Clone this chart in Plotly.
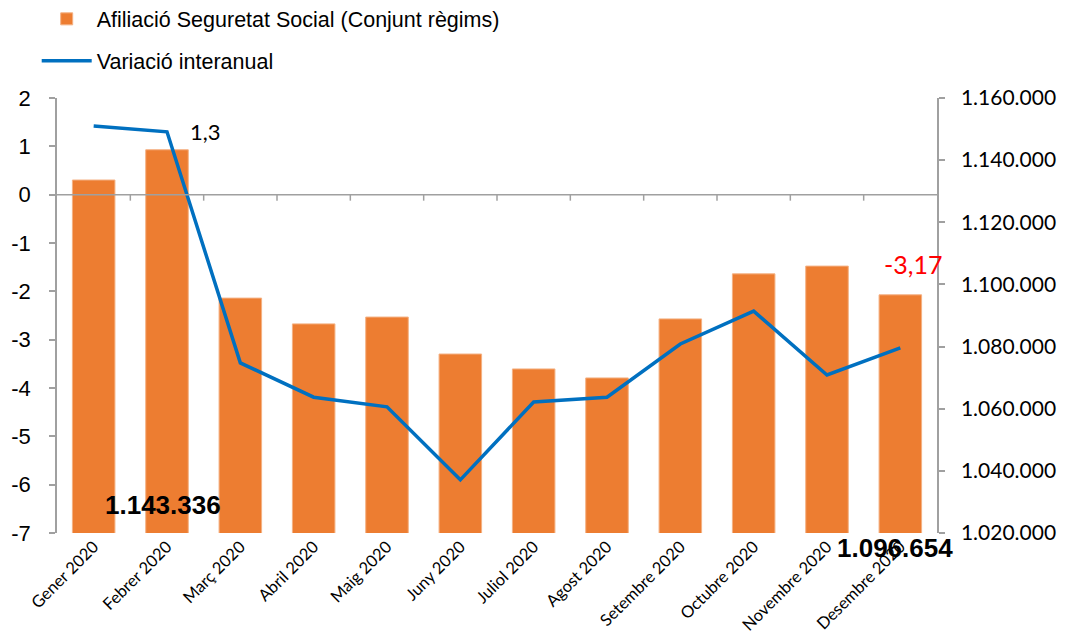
import plotly.graph_objects as go

months = ["Gener 2020", "Febrer 2020", "Març 2020", "Abril 2020", "Maig 2020", "Juny 2020",
          "Juliol 2020", "Agost 2020", "Setembre 2020", "Octubre 2020", "Novembre 2020", "Desembre 2020"]
afiliacio = [1133600, 1143336, 1095600, 1087300, 1089500, 1077600,
             1072800, 1069900, 1088900, 1103400, 1105900, 1096654]
variacio = [1.42, 1.3, -3.48, -4.19, -4.39, -5.9, -4.29, -4.19, -3.09, -2.41, -3.73, -3.17]
left_ticks = [2, 1, 0, -1, -2, -3, -4, -5, -6, -7]
left_ticktext = [str(v) for v in left_ticks]

ORANGE = "#ED7D31"
BLUE = "#0070C0"
GRAY = "#A0A0A0"

def fmt_thousands(v):
    return f"{v:,}".replace(",", ".")

def fmt_dec(v):
    return f"{v}".replace(".", ",")

fig = go.Figure()
fig.add_trace(go.Bar(
    x=months, y=afiliacio, name="Afiliació Seguretat Social (Conjunt règims)",
    marker=dict(color=ORANGE, line=dict(color="#F4B183", width=1)),
    yaxis="y", legendgroup="a",
))
fig.add_trace(go.Scatter(
    x=months, y=variacio, name="Variació interanual", mode="lines",
    line=dict(color=BLUE, width=3.5), yaxis="y2", legendgroup="b",
))

# zero line of left axis with category-boundary ticks (drawn above bars)
shapes = [dict(type="line", xref="paper", yref="y2", x0=0, x1=1, y0=0, y1=0,
               line=dict(color=GRAY, width=1.5), layer="above")]
for i in range(len(months) - 1):
    shapes.append(dict(type="line", xref="x", yref="y2", ysizemode="pixel", yanchor=0,
                       x0=i + 0.5, x1=i + 0.5, y0=0, y1=-6,
                       line=dict(color=GRAY, width=1.5), layer="above"))

annotations = [
    dict(x=months[1], y=variacio[1], xref="x", yref="y2", text=fmt_dec(variacio[1]),
         showarrow=False, xshift=38, yshift=0, font=dict(family="Lato", size=22, color="black")),
    dict(x=months[-1], y=variacio[-1], xref="x", yref="y2", text=fmt_dec(variacio[-1]),
         showarrow=False, xshift=13, yshift=84, font=dict(family="Lato", size=25, color="red")),
    dict(x=months[1], y=0.064, xref="x", yref="paper", yanchor="middle", xanchor="center",
         text="<b>" + fmt_thousands(afiliacio[1]) + "</b>",
         showarrow=False, xshift=-4, font=dict(family="Liberation Sans", size=26, color="black")),
    dict(x=months[-1], y=-0.034, xref="x", yref="paper", yanchor="middle", xanchor="center",
         text="<b>" + fmt_thousands(afiliacio[-1]) + "</b>",
         showarrow=False, xshift=-5, font=dict(family="Liberation Sans", size=26, color="black")),
]

fig.update_layout(
    width=1063, height=634,
    margin=dict(l=49, r=134, t=90, b=109, autoexpand=False),
    plot_bgcolor="white", paper_bgcolor="white",
    separators=",.",
    bargap=0.42,
    showlegend=True,
    legend=dict(xref="container", yref="paper", x=0.027, y=1.229,
                xanchor="left", yanchor="top", traceorder="grouped",
                tracegroupgap=11, itemwidth=50,
                font=dict(family="Liberation Sans", size=21.5, color="black"),
                bgcolor="rgba(0,0,0,0)"),
    xaxis=dict(type="category", range=[-0.5, len(months) - 0.5], tickangle=-45,
               showline=False, ticks="", showgrid=False, automargin=False,
               tickfont=dict(family="Lato", size=16.5, color="black"), anchor="y"),
    yaxis=dict(side="right", range=[1020000, 1160000], dtick=20000, tickformat=",d",
               showline=True, linecolor=GRAY, linewidth=1.5, ticks="outside", ticklen=6,
               tickcolor=GRAY, tickwidth=1.5, showgrid=False, zeroline=False,
               ticklabelstandoff=12, automargin=False,
               tickfont=dict(family="Lato", size=21, color="black")),
    yaxis2=dict(side="left", overlaying="y", range=[-7, 2], tickvals=left_ticks,
                ticktext=left_ticktext, automargin=False,
                showline=True, linecolor=GRAY, linewidth=1.5, ticks="outside", ticklen=6,
                tickcolor=GRAY, tickwidth=1.5, showgrid=False, zeroline=False,
                ticklabelstandoff=14,
                tickfont=dict(family="Liberation Sans", size=22, color="black")),
    shapes=shapes,
    annotations=annotations,
)

fig.write_html("out.html")
